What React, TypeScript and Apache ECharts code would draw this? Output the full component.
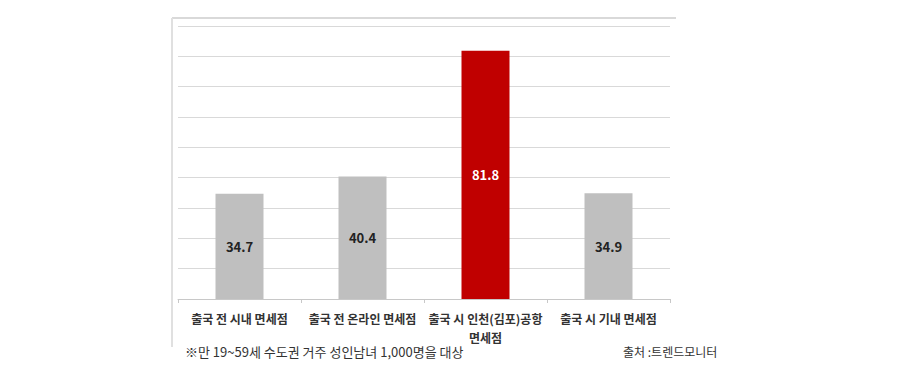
import React, { useEffect, useRef } from "react";
import * as echarts from "echarts";

const categories = [
  "출국 전 시내 면세점",
  "출국 전 온라인 면세점",
  "출국 시 인천(김포)공항\n면세점",
  "출국 시 기내 면세점",
];
const values = [34.7, 40.4, 81.8, 34.9];
const barColors = ["#bfbfbf", "#bfbfbf", "#c00000", "#bfbfbf"];
const labelColors = ["#222222", "#222222", "#ffffff", "#222222"];
const footnote = "※만 19~59세 수도권 거주 성인남녀 1,000명을 대상";
const source = "출처 :트렌드모니터";

const FONT = "'Noto Sans CJK KR', 'Noto Sans', sans-serif";

export default function App() {
  const ref = useRef<HTMLDivElement>(null);
  useEffect(() => {
    if (!ref.current) return;
    const chart = echarts.init(ref.current, null, { renderer: "svg" });
    chart.setOption({
      animation: false,
      backgroundColor: "#ffffff",
      textStyle: { fontFamily: FONT },
      grid: { left: 178, right: 230, top: 26, bottom: 80 },
      xAxis: {
        type: "category",
        data: categories,
        axisLine: { show: true, lineStyle: { color: "#c8c8c8", width: 1 } },
        axisTick: { show: true, length: 4, lineStyle: { color: "#c8c8c8" } },
        axisLabel: {
          interval: 0,
          margin: 10,
          fontSize: 12,
          fontWeight: "bold",
          color: "#333333",
          lineHeight: 19,
          fontFamily: FONT,
        },
      },
      yAxis: {
        type: "value",
        min: 0,
        max: 90,
        interval: 10,
        axisLabel: { show: false },
        axisLine: { show: false },
        axisTick: { show: false },
        splitLine: { show: true, lineStyle: { color: "#d9d9d9", width: 1 } },
      },
      series: [
        {
          type: "bar",
          barWidth: 48,
          data: values.map((v, i) => ({
            value: v,
            itemStyle: { color: barColors[i] },
            label: { color: labelColors[i] },
          })),
          label: {
            show: true,
            position: "inside",
            fontSize: 13,
            fontWeight: "bold",
            fontFamily: FONT,
          },
        },
      ],
      graphic: [
        {
          type: "line",
          shape: { x1: 172, y1: 18, x2: 676, y2: 18 },
          style: { stroke: "#d9d9d9", lineWidth: 2 },
        },
        {
          type: "line",
          shape: { x1: 172, y1: 18, x2: 172, y2: 347 },
          style: { stroke: "#e0e0e0", lineWidth: 2 },
        },
        {
          type: "text",
          left: 185,
          top: 345,
          style: { text: footnote, fontSize: 13, fill: "#333333", fontFamily: FONT },
        },
        {
          type: "text",
          left: 623,
          top: 345,
          style: { text: source, fontSize: 12, fill: "#333333", fontFamily: FONT },
        },
      ],
    });
    return () => chart.dispose();
  }, []);
  return (
    <div
      ref={ref}
      style={{ position: "fixed", left: 0, top: 0, width: 900, height: 379 }}
    />
  );
}
